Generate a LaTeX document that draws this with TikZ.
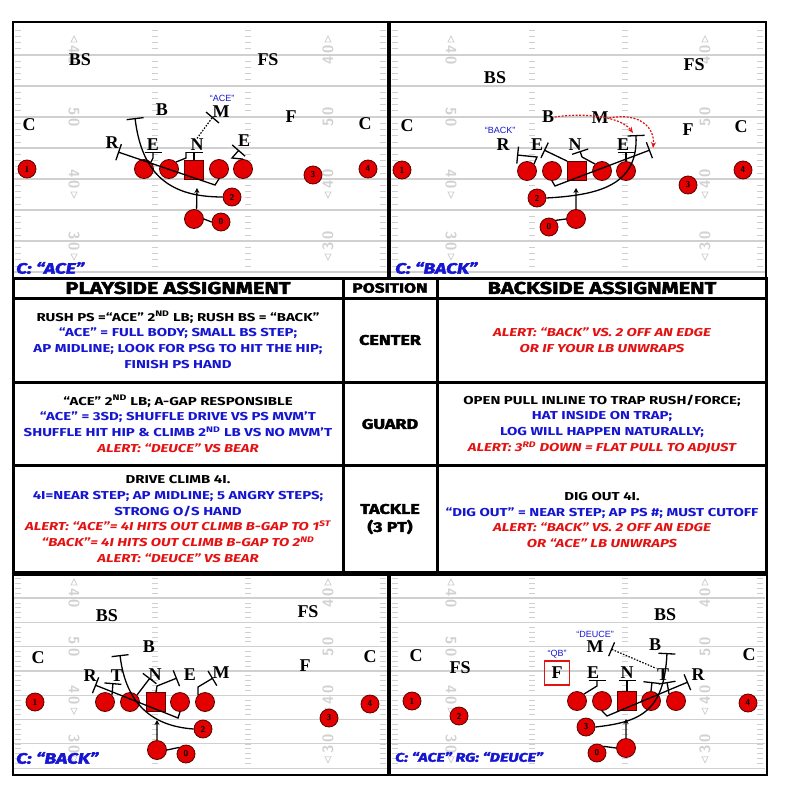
\documentclass[tikz,border=0pt]{standalone}
\usepackage{fontspec}
\usepackage{tikz}
\usetikzlibrary{arrows.meta}
\setmainfont{Liberation Serif}
\newfontfamily\tabfont{Fira Sans}[FakeStretch=1.3]
\newfontfamily\heavyfont{Fira Sans}[FakeStretch=1.28,BoldFeatures={FakeBold=2.6},BoldItalicFeatures={FakeBold=2.6}]
\newfontfamily\callfont{Liberation Sans}
\definecolor{plred}{RGB}{226,0,0}
\definecolor{plrim}{RGB}{90,0,0}
\definecolor{callblue}{RGB}{22,22,210}
\definecolor{alertred}{RGB}{228,18,18}
\definecolor{yardgray}{RGB}{208,208,208}

\begin{document}
\begin{tikzpicture}[x=1pt, y=-1pt,
    yard/.style={draw=yardgray, line width=1.2pt},
    tick/.style={draw=yardgray, line width=0.6pt},
    ydnum/.style={text=black!18, font=\sffamily\bfseries\fontsize{15}{15}\selectfont, inner sep=0pt},
    dl/.style={font=\bfseries\fontsize{18}{18}\selectfont, inner sep=0.5pt},
    call/.style={text=callblue, font=\callfont\fontsize{9}{9}\selectfont, inner sep=0pt},
    tag/.style={anchor=west, text=callblue, font=\heavyfont\bfseries\itshape\fontsize{15}{15}\selectfont, inner sep=0pt},
    ol/.style={circle, fill=plred, draw=plrim, line width=0.8pt, minimum size=19pt, inner sep=0pt},
    ctr/.style={rectangle, fill=plred, draw=plrim, line width=0.8pt, minimum size=19pt, inner sep=0pt},
    sk/.style={ol, minimum size=18pt, font=\sffamily\bfseries\fontsize{8.5}{8.5}\selectfont},
    blk/.style={line width=1.3pt, -{Bar[width=17pt, line width=1.3pt]}},
    lbk/.style={line width=1.2pt, dash pattern=on 1.5pt off 1.5pt},
    qbrun/.style={line width=1.3pt, -{Stealth[length=5pt, width=5pt]}},
    rdash/.style={draw=alertred, line width=1.2pt, dash pattern=on 2pt off 1.5pt, -{Stealth[length=6pt, width=5pt]}},
    panel/.style={draw=black, line width=2.5pt},
    grid/.style={draw=black, line width=3pt},
    cell/.style={align=center, font=\tabfont\bfseries\fontsize{11.5}{15.8}\selectfont, inner sep=0pt},
    head/.style={font=\heavyfont\bfseries\fontsize{17}{17}\selectfont, inner sep=0pt},
    posn/.style={align=center, font=\heavyfont\bfseries\fontsize{14}{18}\selectfont, inner sep=0pt}]
\useasboundingbox (0,0) rectangle (796,797);
\fill[white] (0,0) rectangle (796,797);

% the four fields
\foreach \px/\ya/\dy in {13/55/31, 390/55/31, 13/598/24.3, 390/598/24.3} {
    \foreach \k in {0,...,7}
        \draw[yard] (\px,\ya+\k*\dy) -- ++(375,0);
    \foreach \j in {1,...,40} {
        \draw[tick] (\px+2,{\ya-\dy+\j*\dy/5}) -- ++(6,0);
        \draw[tick] (\px+139,{\ya-\dy+\j*\dy/5}) -- ++(6,0);
        \draw[tick] (\px+232,{\ya-\dy+\j*\dy/5}) -- ++(6,0);
        \draw[tick] (\px+367,{\ya-\dy+\j*\dy/5}) -- ++(6,0);
    }
    \node[ydnum, rotate=-90] at (\px+61,\ya) {4\kern3pt0};
    \node[ydnum, rotate=-90] at (\px+61,\ya+2*\dy) {5\kern3pt0};
    \node[ydnum, rotate=-90] at (\px+61,\ya+4*\dy) {4\kern3pt0};
    \node[ydnum, rotate=-90] at (\px+61,\ya+6*\dy) {3\kern3pt0};
    \node[ydnum, rotate=90] at (\px+315,\ya) {4\kern3pt0};
    \node[ydnum, rotate=90] at (\px+315,\ya+2*\dy) {5\kern3pt0};
    \node[ydnum, rotate=90] at (\px+315,\ya+4*\dy) {4\kern3pt0};
    \node[ydnum, rotate=90] at (\px+315,\ya+6*\dy) {3\kern3pt0};
    \foreach \nx in {61,315} {
        \draw[tick, line width=0.8pt] (\px+\nx-3,\ya-13) -- (\px+\nx,\ya-19) -- (\px+\nx+3,\ya-13) -- cycle;
        \draw[tick, line width=0.8pt] (\px+\nx-3,\ya+4*\dy+13) -- (\px+\nx,\ya+4*\dy+19) -- (\px+\nx+3,\ya+4*\dy+13) -- cycle;
        \draw[tick, line width=0.8pt] (\px+\nx-3,\ya+6*\dy+13) -- (\px+\nx,\ya+6*\dy+19) -- (\px+\nx+3,\ya+6*\dy+13) -- cycle;
    }
}
\draw[panel] (13,22) rectangle (388,278);
\draw[panel] (390,22) rectangle (766,278);
\draw[panel] (13,575) rectangle (388,775);
\draw[panel] (390,575) rectangle (767,775);

% C: "ACE"
\node[dl] (pa-bs) at (80,60) {BS};
\node[dl] (pa-fs) at (268,60) {FS};
\node[dl] (pa-cl) at (29,125) {C};
\node[dl] (pa-cr) at (365,124) {C};
\node[dl] (pa-f) at (291,117) {F};
\node[dl] (pa-b) at (162,110) {B};
\node[dl] (pa-m) at (221,112) {M};
\node[call] (pa-ace) at (222,98) {“ACE”};
\node[dl] (pa-r) at (112,143) {R};
\node[dl] (pa-e1) at (153,145) {E};
\node[dl] (pa-n) at (197,145) {N};
\node[dl] (pa-e2) at (244,141) {E};
\node[sk] (pa-s1) at (27,169) {1};
\node[ol] (pa-lt) at (144,169) {};
\node[ol] (pa-lg) at (169,169) {};
\node[ctr] (pa-c) at (194,170) {};
\node[ol] (pa-rg) at (219,169) {};
\node[ol] (pa-rt) at (243,169) {};
\node[sk] (pa-s3) at (313,175) {3};
\node[sk] (pa-s4) at (368,169) {4};
\node[sk] (pa-s2) at (232,197) {2};
\node[ol] (pa-qb) at (194,219) {};
\node[sk] (pa-s0) at (221,222) {0};
\coordinate (pa-kb) at (135,118);
\coordinate (pa-kr) at (118,152);
\coordinate (pa-ke) at (239,150);
\coordinate (pa-km) at (212,118);
\coordinate (pa-hq) at (197,188);
\draw[blk] (pa-s2.west) .. controls (170,197) and (142,175) .. (pa-kb);
\draw[blk] (pa-rg.south) -- (215,185) -- (pa-kr);
\draw[blk] (pa-lt.north east) -- (153,158) -- (pa-e1.south);
\draw (pa-lg.north east) [line width=1.3pt] -- (186,158) -- (186,152);
\draw[blk] (pa-c.north) -- (pa-c.north |- pa-n.south);
\draw[blk] (pa-rt.north) -- (232,158) -- (pa-ke);
\draw[lbk] (pa-n.north) -- (pa-km);
\draw[line width=1.3pt] (206,112) -- (219,123);
\draw[qbrun] (pa-s0.west) -- (pa-qb.east) (pa-qb.75) -- (pa-hq);
\node[tag] (pa-tag) at (16,268) {C: “ACE”};

% C: "BACK"
\node[dl] (pb-bs) at (495,78) {BS};
\node[dl] (pb-fs) at (694,65) {FS};
\node[dl] (pb-cl) at (407,126) {C};
\node[dl] (pb-cr) at (741,127) {C};
\node[dl] (pb-f) at (688,130) {F};
\node[dl] (pb-b) at (548,117) {B};
\node[dl] (pb-m) at (600,118) {M};
\node[call] (pb-back) at (500,130) {“BACK”};
\node[dl] (pb-r) at (503,145) {R};
\node[dl] (pb-e1) at (537,145) {E};
\node[dl] (pb-n) at (575,145) {N};
\node[dl] (pb-e2) at (623,145) {E};
\node[sk] (pb-s1) at (402,170) {1};
\node[ol] (pb-lt) at (527,171) {};
\node[ol] (pb-lg) at (552,171) {};
\node[ctr] (pb-c) at (577,171) {};
\node[ol] (pb-rg) at (602,171) {};
\node[ol] (pb-rt) at (626,171) {};
\node[sk] (pb-s3) at (688,185) {3};
\node[sk] (pb-s4) at (743,170) {4};
\node[sk] (pb-s2) at (537,198) {2};
\node[ol] (pb-qb) at (576,219) {};
\node[sk] (pb-s0) at (549,227) {0};
\coordinate (pb-kr) at (517,155);
\coordinate (pb-ke) at (544,150);
\coordinate (pb-kn) at (580,151);
\coordinate (pb-kt) at (650,150);
\coordinate (pb-kb) at (636,135);
\coordinate (pb-kx) at (633,133);
\coordinate (pb-ky) at (653,148);
\coordinate (pb-hq) at (576,188);
\draw[blk] (pb-lt.north east) -- (537,157) -- (pb-kr);
\draw[blk] (pb-c.north west) -- (pb-ke);
\draw[blk] (pb-rg.north west) -- (582,157) -- (pb-kn);
\draw[blk] (pb-rt.north) -- (pb-rt.north |- pb-e2.south);
\draw[blk] (pb-lg.south) -- (555,186) -- (pb-kt);
\draw[blk] (pb-s2.east) .. controls (600,195) and (638,185) .. (pb-kb);
\draw[rdash] (pb-b.east) .. controls (590,112) and (622,118) .. (pb-kx);
\draw[rdash] (pb-m.east) .. controls (640,112) and (655,128) .. (pb-ky);
\draw[qbrun] (pb-s0.north east) -- (pb-qb.west) (pb-qb.north) -- (pb-hq);
\node[tag] (pb-tag) at (395,268) {C: “BACK”};

% C: "BACK" (bottom)
\node[dl] (pc-bs) at (107,616) {BS};
\node[dl] (pc-fs) at (308,612) {FS};
\node[dl] (pc-cl) at (38,658) {C};
\node[dl] (pc-cr) at (370,657) {C};
\node[dl] (pc-f) at (305,666) {F};
\node[dl] (pc-b) at (149,647) {B};
\node[dl] (pc-r) at (90,676) {R};
\node[dl] (pc-t) at (117,676) {T};
\node[dl] (pc-n) at (155,675) {N};
\node[dl] (pc-e) at (190,675) {E};
\node[dl] (pc-m) at (221,673) {M};
\node[sk] (pc-s1) at (35,702) {1};
\node[ol] (pc-lt) at (105,702) {};
\node[ol] (pc-lg) at (130,702) {};
\node[ctr] (pc-c) at (156,702) {};
\node[ol] (pc-rg) at (180,702) {};
\node[ol] (pc-rt) at (205,702) {};
\node[sk] (pc-s3) at (329,718) {3};
\node[sk] (pc-s4) at (370,704) {4};
\node[sk] (pc-s2) at (203,729) {2};
\node[ol] (pc-qb) at (157,750) {};
\node[sk] (pc-s0) at (186,754) {0};
\coordinate (pc-kb) at (120,655);
\coordinate (pc-kr) at (95,685);
\coordinate (pc-kt) at (113,683);
\coordinate (pc-kn) at (150,678);
\coordinate (pc-ke) at (177,678);
\coordinate (pc-km) at (213,678);
\coordinate (pc-hq) at (157,720);
\draw[blk] (pc-s2.west) .. controls (165,727) and (127,715) .. (pc-kb);
\draw[blk] (pc-rg.south) -- (178,718) -- (pc-kr);
\draw[blk] (pc-lt.north east) -- (pc-kt);
\draw[blk] (pc-lg.north east) -- (pc-kn);
\draw[blk] (pc-c.north) -- (157,686) -- (pc-ke);
\draw[blk] (pc-rt.north west) -- (198,687) -- (pc-km);
\draw[qbrun] (pc-s0.north west) -- (pc-qb.east) (pc-qb.north) -- (pc-hq);
\node[tag] (pc-tag) at (16,758) {C: “BACK”};

% C: "ACE" RG: "DEUCE"
\node[dl] (pd-bs) at (665,615) {BS};
\node[call] (pd-deuce) at (595,634) {“DEUCE”};
\node[dl] (pd-m) at (595,647) {M};
\node[dl] (pd-b) at (655,645) {B};
\node[dl] (pd-cl) at (416,656) {C};
\node[dl] (pd-cr) at (749,655) {C};
\node[dl] (pd-fs) at (460,668) {FS};
\node[call] (pd-qbc) at (557,654) {“QB”};
\node[dl, draw=alertred, line width=1.2pt, minimum width=25pt, minimum height=24pt] (pd-f) at (557,673) {F};
\node[dl] (pd-e) at (593,673) {E};
\node[dl] (pd-n) at (627,673) {N};
\node[dl] (pd-t) at (663,675) {T};
\node[dl] (pd-r) at (698,675) {R};
\node[sk] (pd-s1) at (412,701) {1};
\node[sk] (pd-s2) at (459,716) {2};
\node[ol] (pd-lt) at (577,701) {};
\node[ol] (pd-lg) at (602,701) {};
\node[ctr] (pd-c) at (627,701) {};
\node[ol] (pd-rg) at (651,701) {};
\node[ol] (pd-rt) at (676,701) {};
\node[sk] (pd-s4) at (748,703) {4};
\node[sk] (pd-s3) at (586,727) {3};
\node[ol] (pd-qb) at (626,748) {};
\node[sk] (pd-s0) at (597,753) {0};
\coordinate (pd-km) at (611,649);
\coordinate (pd-kb) at (667,653);
\coordinate (pd-kr) at (688,682);
\coordinate (pd-ke) at (597,680);
\coordinate (pd-kt) at (652,682);
\coordinate (pd-ku) at (667,682);
\coordinate (pd-hq) at (626,719);
\draw[lbk, {Bar[width=15pt, line width=1.3pt]}-] (pd-km) -- (pd-t.north west);
\draw[blk] (pd-s3.east) .. controls (640,722) and (664,712) .. (pd-kb);
\draw[blk] (pd-lg.south) -- (607,716) -- (pd-kr);
\draw[blk] (pd-lt.north east) -- (597,686) -- (pd-ke);
\draw[blk] (pd-c.north) -- (pd-c.north |- pd-n.south);
\draw[blk] (pd-rg.north) -- (pd-kt);
\draw[blk] (pd-rt.north west) -- (pd-ku);
\draw[qbrun] (pd-s0.north east) -- (pd-qb.west) (pd-qb.north) -- (pd-hq);
\node[tag, font=\heavyfont\bfseries\itshape\fontsize{12.5}{12.5}\selectfont] (pd-tag) at (395,757) {C: “ACE” RG: “DEUCE”};

% assignment table
\draw[grid] (13,278) rectangle (766,572);
\draw[grid] (13,298) -- (766,298) (13,382) -- (766,382) (13,465) -- (766,465)
    (343,278) -- (343,572) (437,278) -- (437,572);
\node[head] (hplay) at (178,288) {PLAYSIDE ASSIGNMENT};
\node[head, font=\heavyfont\bfseries\fontsize{13.5}{13.5}\selectfont] (hpos) at (390,288) {POSITION};
\node[head] (hback) at (602,288) {BACKSIDE ASSIGNMENT};
\node[cell] (ctrplay) at (178,340) {RUSH PS =“ACE” 2\textsuperscript{ND} LB; RUSH BS = “BACK”\\
    \textcolor{callblue}{“ACE” = FULL BODY; SMALL BS STEP;}\\
    \textcolor{callblue}{AP MIDLINE; LOOK FOR PSG TO HIT THE HIP;}\\
    \textcolor{callblue}{FINISH PS HAND}};
\node[cell] (grdplay) at (178,424) {“ACE” 2\textsuperscript{ND} LB; A-GAP RESPONSIBLE\\
    \textcolor{callblue}{“ACE” = 3SD; SHUFFLE DRIVE VS PS MVM’T}\\
    \textcolor{callblue}{SHUFFLE HIT HIP \& CLIMB 2\textsuperscript{ND} LB VS NO MVM’T}\\
    \textcolor{alertred}{\itshape ALERT: “DEUCE” VS BEAR}};
\node[cell] (tklplay) at (178,519) {DRIVE CLIMB 4I.\\
    \textcolor{callblue}{4I=NEAR STEP; AP MIDLINE; 5 ANGRY STEPS;}\\
    \textcolor{callblue}{STRONG O/S HAND}\\
    \textcolor{alertred}{\itshape ALERT: “ACE”= 4I HITS OUT CLIMB B-GAP TO 1\textsuperscript{ST}}\\
    \textcolor{alertred}{\itshape “BACK”= 4I HITS OUT CLIMB B-GAP TO 2\textsuperscript{ND}}\\
    \textcolor{alertred}{\itshape ALERT: “DEUCE” VS BEAR}};
\node[posn] (ctrpos) at (390,340) {CENTER};
\node[posn] (grdpos) at (390,424) {GUARD};
\node[posn] (tklpos) at (390,519) {TACKLE\\(3 PT)};
\node[cell] (ctrback) at (602,340) {\textcolor{alertred}{\itshape ALERT: “BACK” VS. 2 OFF AN EDGE}\\
    \textcolor{alertred}{\itshape OR IF YOUR LB UNWRAPS}};
\node[cell] (grdback) at (602,424) {OPEN PULL INLINE TO TRAP RUSH/FORCE;\\
    \textcolor{callblue}{HAT INSIDE ON TRAP;}\\
    \textcolor{callblue}{LOG WILL HAPPEN NATURALLY;}\\
    \textcolor{alertred}{\itshape ALERT: 3\textsuperscript{RD} DOWN = FLAT PULL TO ADJUST}};
\node[cell] (tklback) at (602,520) {DIG OUT 4I.\\
    \textcolor{callblue}{“DIG OUT” = NEAR STEP; AP PS \#; MUST CUTOFF}\\
    \textcolor{alertred}{\itshape ALERT: “BACK” VS. 2 OFF AN EDGE}\\
    \textcolor{alertred}{\itshape OR “ACE” LB UNWRAPS}};
\end{tikzpicture}
\end{document}
